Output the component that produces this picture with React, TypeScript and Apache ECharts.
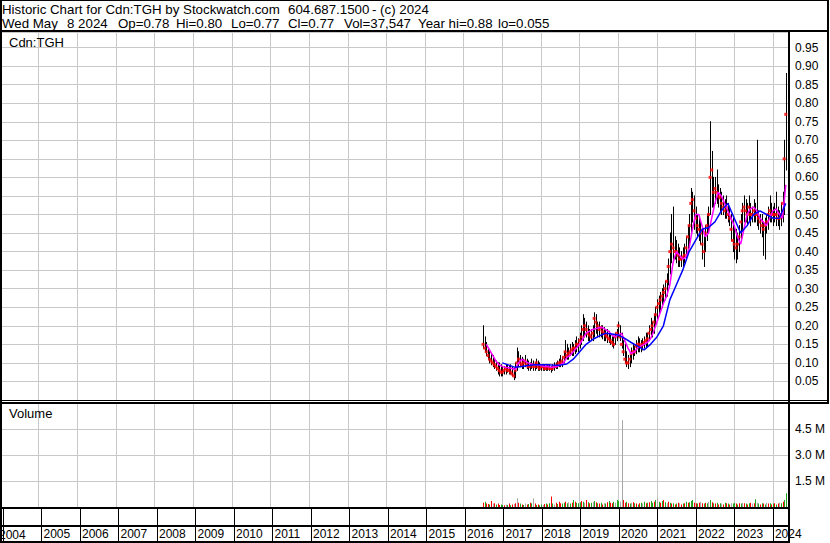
import React, { useEffect, useRef } from "react";
import * as echarts from "echarts";

const FONT = '"Liberation Sans", Arial, sans-serif';

// Semi-monthly periods starting mid-2016
const START_YEAR = 2016.5;
const PERIODS_PER_YEAR = 24;

const high = [
  // i0-12
  0.20, 0.17, 0.155, 0.14, 0.13, 0.125, 0.12, 0.11, 0.105, 0.10, 0.10, 0.095, 0.09,
  // i13-36
  0.09, 0.095, 0.095, 0.09, 0.095, 0.09, 0.085, 0.10, 0.14, 0.13, 0.12, 0.115, 0.11, 0.12, 0.11, 0.105, 0.10, 0.11, 0.105, 0.10, 0.11, 0.105, 0.10, 0.095,
  // i37-60
  0.095, 0.095, 0.09, 0.095, 0.095, 0.09, 0.095, 0.10, 0.10, 0.105, 0.11, 0.12, 0.115, 0.13, 0.16, 0.15, 0.14, 0.15, 0.155, 0.15, 0.16, 0.17, 0.165, 0.18,
  // i61-84
  0.20, 0.23, 0.22, 0.21, 0.20, 0.19, 0.19, 0.20, 0.235, 0.23, 0.21, 0.21, 0.20, 0.20, 0.195, 0.19, 0.19, 0.185, 0.175, 0.17, 0.17, 0.18, 0.19, 0.21,
  // i85-108
  0.20, 0.18, 0.16, 0.15, 0.13, 0.12, 0.12, 0.14, 0.15, 0.145, 0.16, 0.17, 0.165, 0.16, 0.165, 0.17, 0.18, 0.18, 0.20, 0.22, 0.21, 0.23, 0.25, 0.27,
  // i109-132
  0.28, 0.29, 0.30, 0.31, 0.32, 0.34, 0.38, 0.45, 0.50, 0.52, 0.44, 0.43, 0.42, 0.41, 0.40, 0.41, 0.42, 0.44, 0.47, 0.50, 0.57, 0.56, 0.55, 0.52,
  // i133-156
  0.50, 0.49, 0.48, 0.46, 0.44, 0.47, 0.50, 0.52, 0.75, 0.67, 0.60, 0.60, 0.62, 0.58, 0.57, 0.56, 0.55, 0.54, 0.55, 0.53, 0.52, 0.50, 0.49, 0.47,
  // i157-180
  0.46, 0.45, 0.47, 0.50, 0.53, 0.55, 0.54, 0.53, 0.55, 0.53, 0.52, 0.54, 0.53, 0.70, 0.51, 0.50, 0.50, 0.48, 0.49, 0.50, 0.52, 0.55, 0.53, 0.52,
  // i181-188
  0.53, 0.56, 0.52, 0.51, 0.53, 0.56, 0.70, 0.88,
];

const low = [
  0.14, 0.13, 0.12, 0.11, 0.10, 0.095, 0.09, 0.085, 0.08, 0.07, 0.065, 0.065, 0.065,
  0.07, 0.07, 0.075, 0.07, 0.07, 0.065, 0.055, 0.06, 0.08, 0.09, 0.09, 0.085, 0.085, 0.09, 0.085, 0.08, 0.08, 0.085, 0.08, 0.08, 0.085, 0.08, 0.08, 0.08,
  0.08, 0.08, 0.08, 0.08, 0.08, 0.075, 0.08, 0.08, 0.085, 0.085, 0.09, 0.09, 0.09, 0.10, 0.11, 0.11, 0.11, 0.12, 0.12, 0.12, 0.125, 0.13, 0.13, 0.14,
  0.15, 0.16, 0.17, 0.17, 0.16, 0.16, 0.16, 0.16, 0.17, 0.18, 0.17, 0.17, 0.17, 0.165, 0.16, 0.16, 0.155, 0.155, 0.15, 0.145, 0.14, 0.15, 0.16, 0.17,
  0.16, 0.14, 0.12, 0.10, 0.09, 0.085, 0.09, 0.10, 0.11, 0.12, 0.125, 0.13, 0.13, 0.13, 0.135, 0.14, 0.14, 0.145, 0.16, 0.17, 0.17, 0.18, 0.20, 0.22,
  0.23, 0.24, 0.25, 0.26, 0.27, 0.28, 0.31, 0.34, 0.37, 0.38, 0.38, 0.37, 0.36, 0.36, 0.36, 0.36, 0.37, 0.38, 0.40, 0.42, 0.45, 0.48, 0.46, 0.45,
  0.44, 0.43, 0.42, 0.38, 0.36, 0.40, 0.43, 0.45, 0.50, 0.52, 0.52, 0.53, 0.53, 0.52, 0.51, 0.50, 0.50, 0.49, 0.49, 0.48, 0.47, 0.43, 0.40, 0.38,
  0.37, 0.38, 0.40, 0.43, 0.46, 0.48, 0.48, 0.47, 0.48, 0.47, 0.48, 0.48, 0.48, 0.47, 0.46, 0.45, 0.44, 0.39, 0.38, 0.45, 0.46, 0.48, 0.48, 0.47,
  0.48, 0.47, 0.47, 0.46, 0.47, 0.48, 0.50, 0.62,
];

const close = [
  0.15, 0.14, 0.13, 0.12, 0.11, 0.105, 0.10, 0.095, 0.09, 0.085, 0.08, 0.075, 0.075,
  0.08, 0.085, 0.08, 0.08, 0.075, 0.07, 0.065, 0.08, 0.10, 0.11, 0.10, 0.095, 0.10, 0.105, 0.095, 0.09, 0.09, 0.095, 0.09, 0.09, 0.10, 0.09, 0.085, 0.09,
  0.09, 0.085, 0.085, 0.09, 0.085, 0.085, 0.085, 0.09, 0.09, 0.095, 0.10, 0.10, 0.105, 0.115, 0.13, 0.12, 0.125, 0.13, 0.135, 0.14, 0.14, 0.15, 0.15, 0.16,
  0.17, 0.19, 0.20, 0.19, 0.18, 0.175, 0.17, 0.18, 0.22, 0.21, 0.20, 0.19, 0.195, 0.185, 0.18, 0.175, 0.17, 0.165, 0.16, 0.155, 0.15, 0.17, 0.18, 0.20,
  0.17, 0.15, 0.13, 0.11, 0.10, 0.10, 0.11, 0.125, 0.13, 0.13, 0.145, 0.15, 0.15, 0.145, 0.15, 0.155, 0.16, 0.165, 0.18, 0.19, 0.20, 0.21, 0.23, 0.25,
  0.26, 0.27, 0.28, 0.29, 0.30, 0.32, 0.36, 0.40, 0.42, 0.41, 0.40, 0.40, 0.39, 0.38, 0.38, 0.385, 0.39, 0.41, 0.44, 0.47, 0.53, 0.54, 0.51, 0.49,
  0.47, 0.46, 0.45, 0.42, 0.40, 0.45, 0.47, 0.50, 0.60, 0.62, 0.56, 0.57, 0.56, 0.55, 0.545, 0.53, 0.52, 0.51, 0.52, 0.50, 0.49, 0.46, 0.43, 0.42,
  0.41, 0.42, 0.44, 0.48, 0.51, 0.52, 0.51, 0.50, 0.52, 0.50, 0.50, 0.51, 0.50, 0.50, 0.49, 0.48, 0.47, 0.46, 0.47, 0.48, 0.50, 0.51, 0.50, 0.50,
  0.50, 0.50, 0.49, 0.49, 0.50, 0.53, 0.65, 0.77,
];

// Short moving average (magenta), every 2nd period from period 2
const MA_SHORT_START = 2;
const MA_SHORT_STEP = 2;
const maShort = [
  0.15, 0.135, 0.12, 0.105, 0.095, 0.09, 0.088, 0.087, 0.085, 0.082,
  0.10, 0.11, 0.105, 0.10, 0.097, 0.095, 0.095, 0.093, 0.09, 0.09,
  0.088, 0.089, 0.09, 0.095, 0.10, 0.115, 0.12, 0.13, 0.14, 0.15,
  0.165, 0.18, 0.185, 0.19, 0.192, 0.195, 0.196, 0.19, 0.185, 0.175,
  0.17, 0.175, 0.18, 0.16, 0.14, 0.125, 0.13, 0.14, 0.145, 0.15,
  0.155, 0.165, 0.185, 0.21, 0.235, 0.26, 0.28, 0.31, 0.37, 0.40,
  0.39, 0.38, 0.385, 0.41, 0.46, 0.50, 0.50, 0.47, 0.44, 0.45,
  0.49, 0.53, 0.56, 0.55, 0.53, 0.51, 0.49, 0.47, 0.44, 0.42,
  0.46, 0.50, 0.515, 0.52, 0.51, 0.49, 0.48, 0.47, 0.49, 0.51,
  0.515, 0.50, 0.49, 0.58,
];

// Long moving average (blue), every 4th period from period 12
const MA_LONG_START = 12;
const MA_LONG_STEP = 4;
const maLong = [
  0.10, 0.094, 0.088, 0.09, 0.093, 0.095, 0.095, 0.095, 0.094, 0.094,
  0.097, 0.11, 0.13, 0.15, 0.163, 0.172, 0.18, 0.178, 0.175, 0.166,
  0.155, 0.145, 0.135, 0.15, 0.17, 0.20, 0.27, 0.31, 0.35, 0.40,
  0.43, 0.46, 0.465, 0.48, 0.51, 0.53, 0.49, 0.45, 0.47, 0.50,
  0.51, 0.50, 0.49, 0.49, 0.53,
];

// Volume in millions of shares
const volumeM = [
  0.25, 0.3, 0.2, 0.18, 0.15, 0.35, 0.2, 0.22, 0.15, 0.2, 0.12, 0.15,
  0.12, 0.1, 0.15, 0.12, 0.2, 0.1, 0.14, 0.18, 0.22, 0.5, 0.25, 0.2,
  0.15, 0.12, 0.2, 0.14, 0.18, 0.25, 0.22, 0.5, 0.2, 0.12, 0.15, 0.1,
  0.14, 0.12, 0.18, 0.2, 0.15, 0.22, 0.6, 0.2, 0.14, 0.25, 0.18, 0.3,
  0.22, 0.2, 0.25, 0.3, 0.22, 0.28, 0.2, 0.25, 0.4, 0.3, 0.25, 0.22,
  0.28, 0.35, 0.3, 0.25, 0.4, 0.28, 0.22, 0.25, 0.3, 0.35, 0.28, 0.22,
  0.2, 0.25, 0.15, 0.22, 0.2, 0.28, 0.35, 0.25, 0.22, 0.3, 0.25, 0.4,
  0.35, 0.3, 5.0, 0.4, 0.25, 0.3, 0.22, 0.2, 0.25, 0.28, 0.22, 0.2,
  0.15, 0.22, 0.25, 0.2, 0.3, 0.22, 0.25, 0.28, 0.35, 0.25, 0.3, 0.4,
  0.5, 0.3, 0.25, 0.35, 0.4, 0.28, 0.22, 0.3, 0.25, 0.2, 0.22, 0.15,
  0.2, 0.25, 0.22, 0.15, 0.2, 0.22, 0.3, 0.25, 0.28, 0.35, 0.4, 0.25,
  0.22, 0.2, 0.25, 0.3, 0.22, 0.2, 0.25, 0.22, 0.3, 0.4, 0.28, 0.22,
  0.2, 0.25, 0.15, 0.22, 0.2, 0.15, 0.25, 0.22, 0.2, 0.15, 0.22, 0.2,
  0.25, 0.2, 0.15, 0.22, 0.2, 0.25, 0.22, 0.2, 0.15, 0.22, 0.25, 0.2,
  0.22, 0.45, 0.25, 0.2, 0.15, 0.22, 0.2, 0.15, 0.25, 0.2, 0.22, 0.15,
  0.2, 0.22, 0.15, 0.2, 0.25, 0.22, 0.3, 0.4, 0.8,
];

// r = down, g = up, n = unchanged
const volumeDir =
  "rgrrgrnrgrrg" + "grngrgrnrnrg" + "rgnrgrgnrgrg" + "gnrgrgrgnrgr" +
  "rggrgngrgrgg" + "grgnrgrgngrg" + "rgrngrgrrgng" + "gnnrrgrgnrgr" +
  "grgngrgrggrg" + "ngrgrgnrgrgr" + "grnrgrgrgggr" + "rgrnrgrgngrg" +
  "rgrgnrgrgrng" + "grgrgnrgrgrn" + "rgngrgrgnrgr" + "grgrngrgg";

const VOL_COLORS: Record<string, string> = { r: "#ff0000", g: "#1fa51f", n: "#a8a8a8" };

const X_MIN = 2004;
const X_MAX = 2024.417;
const GRID_LEFT = -12.56;
const GRID_WIDTH = 801.56;

const periodYear = (i: number) => START_YEAR + i / PERIODS_PER_YEAR;

export default function App() {
  const ref = useRef<HTMLDivElement>(null);

  useEffect(() => {
    if (!ref.current) return;
    const chart = echarts.init(ref.current, null, { renderer: "svg" });

    const barData = high.map((h, i) => [periodYear(i), low[i], h]);
    const closeData = close.map((c, i) => [periodYear(i), c]);
    const maShortData = maShort.map((v, k) => [periodYear(MA_SHORT_START + k * MA_SHORT_STEP), v]);
    const maLongData = maLong.map((v, k) => [periodYear(MA_LONG_START + k * MA_LONG_STEP), v]);
    const volData = volumeM.map((v, i) => [periodYear(i), v, "rgn".indexOf(volumeDir[i])]);
    const volColorList = [VOL_COLORS.r, VOL_COLORS.g, VOL_COLORS.n];

    const blackRect = (x: number, y: number, w: number, h: number) => ({
      type: "rect",
      shape: { x, y, width: w, height: h },
      style: { fill: "#000" },
      z: 100,
      silent: true,
    });
    const txt = (text: string, x: number, y: number, size: number) => ({
      type: "text",
      x,
      y,
      z: 101,
      silent: true,
      style: {
        text,
        fontSize: size,
        fontFamily: FONT,
        fill: "#000",
        verticalAlign: "middle",
        align: "left",
      },
    });

    const xAxisFor = (k: number) => ({
      type: "value",
      gridIndex: k,
      min: X_MIN,
      max: X_MAX,
      interval: 1,
      axisLine: { show: false },
      axisTick:
        k === 2
          ? { show: true, length: 15, lineStyle: { color: "#000", width: 1 } }
          : { show: false },
      splitLine: { show: true, lineStyle: { color: k === 2 ? "#000" : "#c8c8c8", width: 1 } },
      axisLabel:
        k === 2
          ? {
              show: true,
              margin: 2,
              align: "left",
              verticalAlign: "top",
              padding: [0, 0, 0, 2],
              fontSize: 12,
              fontFamily: FONT,
              color: "#000",
              formatter: (v: number) => {
                const r = Math.round(v);
                return Math.abs(v - r) < 1e-6 && r > 2004 ? String(r) : "";
              },
            }
          : { show: false },
    });

    const option: any = {
      animation: false,
      backgroundColor: "#ffffff",
      grid: [
        { left: GRID_LEFT, top: 32, width: GRID_WIDTH, height: 368 },
        { left: GRID_LEFT, top: 403, width: GRID_WIDTH, height: 104 },
        { left: GRID_LEFT, top: 509, width: GRID_WIDTH, height: 17 },
      ],
      xAxis: [xAxisFor(0), xAxisFor(1), xAxisFor(2)],
      yAxis: [
        {
          type: "value",
          gridIndex: 0,
          position: "right",
          min: 0,
          max: 368 / 371,
          interval: 0.05,
          axisLine: { show: false },
          axisTick: { show: false },
          splitLine: { show: true, lineStyle: { color: "#c8c8c8", width: 1 } },
          axisLabel: {
            margin: 6,
            fontSize: 12,
            fontFamily: FONT,
            color: "#000",
            formatter: (v: number) => (v > 0.001 && v < 0.97 ? v.toFixed(2) : ""),
          },
        },
        {
          type: "value",
          gridIndex: 1,
          position: "right",
          min: 0,
          max: 6,
          interval: 1.5,
          axisLine: { show: false },
          axisTick: { show: false },
          splitLine: { show: true, lineStyle: { color: "#c8c8c8", width: 1 } },
          axisLabel: {
            margin: 6,
            fontSize: 12,
            fontFamily: FONT,
            color: "#000",
            formatter: (v: number) => (v > 0.01 && v < 5.9 ? v.toFixed(1) + " M" : ""),
          },
        },
        { type: "value", gridIndex: 2, min: 0, max: 1, show: false },
      ],
      series: [
        {
          type: "custom",
          name: "Range",
          xAxisIndex: 0,
          yAxisIndex: 0,
          z: 2,
          data: barData,
          encode: { x: 0, y: [1, 2] },
          renderItem: (_p: any, api: any) => {
            const a = api.coord([api.value(0), api.value(1)]);
            const b = api.coord([api.value(0), api.value(2)]);
            const x = Math.round(a[0]) + 0.5;
            return {
              type: "line",
              shape: { x1: x, y1: a[1] + 0.5, x2: x, y2: b[1] - 0.5 },
              style: { stroke: "#000", lineWidth: 1 },
            };
          },
        },
        {
          type: "scatter",
          name: "Close",
          xAxisIndex: 0,
          yAxisIndex: 0,
          z: 3,
          symbol: "rect",
          symbolSize: [3, 3],
          itemStyle: { color: "#ff0000" },
          data: closeData,
        },
        {
          type: "line",
          name: "MA short",
          xAxisIndex: 0,
          yAxisIndex: 0,
          z: 4,
          symbol: "none",
          showSymbol: false,
          lineStyle: { color: "#ff00ff", width: 1.5 },
          itemStyle: { color: "#ff00ff" },
          data: maShortData,
        },
        {
          type: "line",
          name: "MA long",
          xAxisIndex: 0,
          yAxisIndex: 0,
          z: 5,
          symbol: "none",
          showSymbol: false,
          lineStyle: { color: "#0000ff", width: 1.5 },
          itemStyle: { color: "#0000ff" },
          data: maLongData,
        },
        {
          type: "custom",
          name: "Volume",
          xAxisIndex: 1,
          yAxisIndex: 1,
          z: 2,
          data: volData,
          encode: { x: 0, y: 1 },
          renderItem: (_p: any, api: any) => {
            const top = api.coord([api.value(0), api.value(1)]);
            const base = api.coord([api.value(0), 0]);
            const x = Math.round(top[0]);
            return {
              type: "rect",
              shape: { x, y: top[1], width: 1, height: base[1] - top[1] },
              style: { fill: volColorList[api.value(2)] },
            };
          },
        },
      ],
      graphic: {
        elements: [
          // header texts
          txt("Historic Chart for Cdn:TGH by Stockwatch.com", 2, 9, 13.3),
          txt("604.687.1500", 288, 9, 13.3),
          txt("- (c) 2024", 372, 9, 13.3),
          txt("Wed May", 2, 23, 13.3),
          txt("8 2024", 67, 23, 13.3),
          txt("Op=0.78", 118, 23, 13.3),
          txt("Hi=0.80", 176, 23, 13.3),
          txt("Lo=0.77", 231, 23, 13.3),
          txt("Cl=0.77", 288, 23, 13.3),
          txt("Vol=37,547", 344, 23, 13.3),
          txt("Year hi=0.88", 418, 23, 13.3),
          txt("lo=0.055", 498, 23, 13.3),
          // panel labels
          txt("Cdn:TGH", 9, 42, 13),
          txt("Volume", 9, 413, 13),
          txt("2004", -1, 534.5, 12),
          // frame lines
          blackRect(0, 0, 829, 1),
          blackRect(0, 0, 2, 543),
          blackRect(827, 0, 2, 403),
          blackRect(0, 30, 829, 2),
          blackRect(788, 30, 2, 513),
          blackRect(0, 400, 829, 1),
          blackRect(0, 402, 829, 2),
          blackRect(0, 507, 790, 2),
          blackRect(0, 525, 790, 2),
          blackRect(0, 541, 790, 2),
        ],
      },
    };

    chart.setOption(option);
    return () => chart.dispose();
  }, []);

  return (
    <div
      ref={ref}
      style={{ position: "fixed", left: 0, top: 0, width: 830, height: 543, background: "#fff" }}
    />
  );
}
